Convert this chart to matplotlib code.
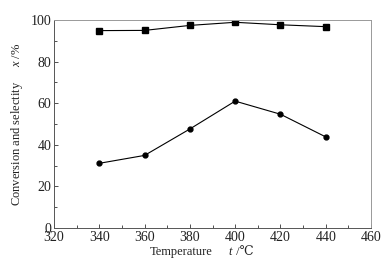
import matplotlib
matplotlib.use("Agg")
import matplotlib.pyplot as plt
from matplotlib.ticker import MultipleLocator

temps = [340, 360, 380, 400, 420, 440]
selectivity = [94.9, 95.0, 97.4, 98.9, 97.7, 96.8]
conversion = [31.1, 34.9, 47.6, 61.0, 54.7, 43.8]

plt.rcParams['font.family'] = ['Liberation Serif', 'DejaVu Serif']
plt.rcParams['mathtext.fontset'] = 'custom'
plt.rcParams['mathtext.it'] = 'Liberation Serif:italic'
plt.rcParams['mathtext.rm'] = 'Liberation Serif'

W, H = 390, 263
fig = plt.figure(figsize=(3.9, 2.63), dpi=100)
ax = fig.add_axes([54/W, 1-228/H, (371-54)/W, (228-20)/H])

ax.plot(temps, selectivity, '-s', color='black', lw=0.8, ms=4)
ax.plot(temps, conversion, '-o', color='black', lw=0.8, ms=3.5)

ax.set_xlim(320, 460)
ax.set_ylim(0, 100)
ax.xaxis.set_major_locator(MultipleLocator(20))
ax.xaxis.set_minor_locator(MultipleLocator(10))
ax.yaxis.set_major_locator(MultipleLocator(20))
ax.yaxis.set_minor_locator(MultipleLocator(10))
ax.tick_params(which='both', direction='in', labelsize=10, colors='#333333', labelcolor='#222222', width=0.6)
ax.tick_params(which='major', length=3)
ax.tick_params(which='minor', length=2)
ax.tick_params(axis='x', pad=2)
ax.tick_params(axis='y', pad=2)

for s in ['left', 'bottom']:
    ax.spines[s].set_color('#555555')
    ax.spines[s].set_linewidth(0.7)
for s in ['top', 'right']:
    ax.spines[s].set_color('#999999')
    ax.spines[s].set_linewidth(0.7)

# x label pieces
ly = 1 - 252/H
fig.text(150/W, ly, 'Temperature', fontsize=9, color='#222222', ha='left', va='center')
fig.text(228/W, ly, 't', fontsize=9, style='italic', color='#222222', ha='left', va='center')
fig.text(233/W, ly, ' /℃', fontsize=9, color='#222222', ha='left', va='center',
         family=['Liberation Serif', 'DejaVu Serif', 'DejaVu Sans'])

ax.set_ylabel(r'Conversion and selectity     $x$ /%', fontsize=9, color='#222222', labelpad=4)

fig.savefig('out.png', dpi=100)
